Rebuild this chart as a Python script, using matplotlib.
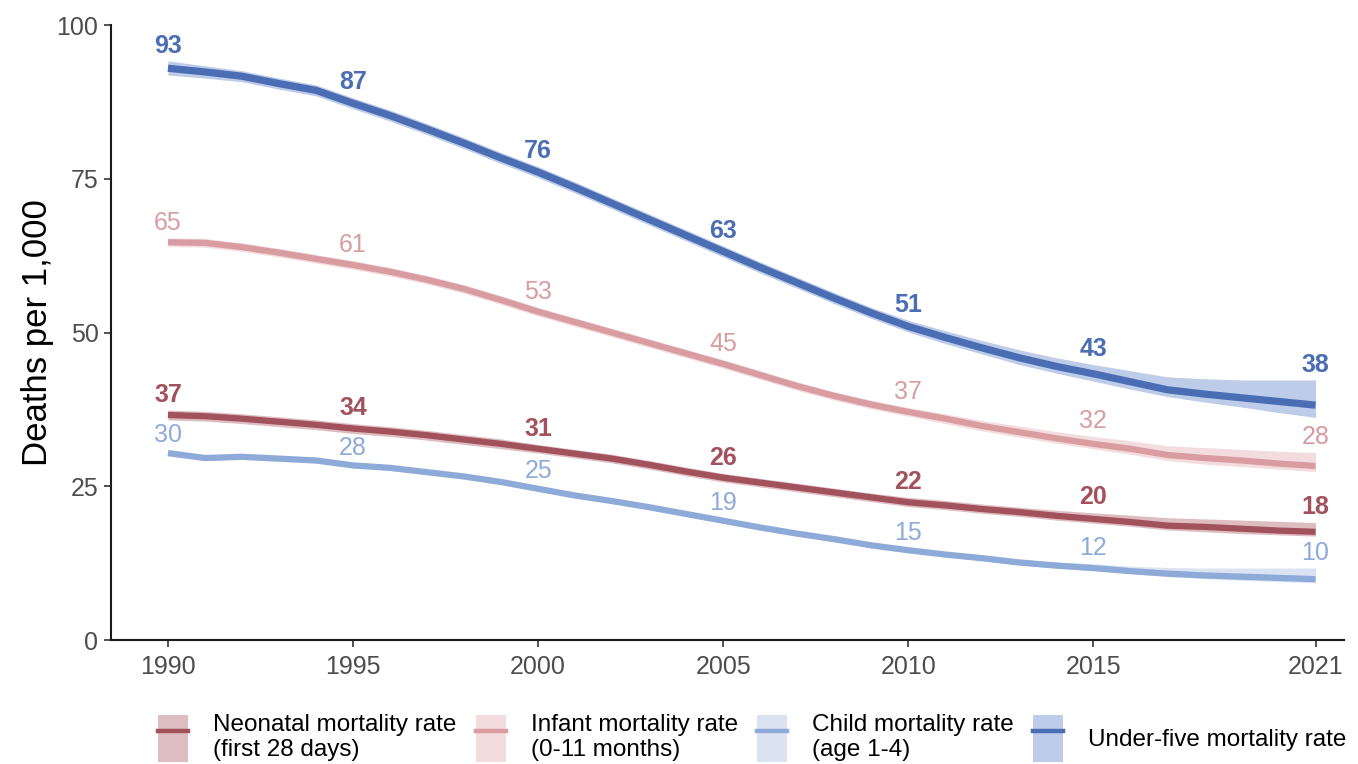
import matplotlib
matplotlib.use("Agg")
import matplotlib.pyplot as plt
from matplotlib.patches import Patch
from matplotlib.lines import Line2D
from matplotlib.legend_handler import HandlerTuple

plt.rcParams['font.family'] = ['Liberation Sans', 'DejaVu Sans']

years = list(range(1990, 2022))
label_years = [1990, 1995, 2000, 2005, 2010, 2015, 2021]
xtick_labels = ["1990", "1995", "2000", "2005", "2010", "2015", "2021"]
yticks = [0, 25, 50, 75, 100]

under5 = [93.0, 92.4, 91.7, 90.5, 89.4, 87.3, 85.3, 83.1, 80.8, 78.4, 76.1, 73.6, 71.0, 68.4, 65.8, 63.2,
          60.6, 58.1, 55.6, 53.2, 51.0, 49.2, 47.5, 45.9, 44.5, 43.3, 42.0, 40.7, 40.0, 39.4, 38.8, 38.2]
under5_hi = [94.2, 93.4, 92.6, 91.4, 90.3, 88.2, 86.2, 84.0, 81.7, 79.3, 77.0, 74.5, 71.9, 69.3, 66.7, 64.1,
             61.5, 59.0, 56.5, 54.1, 52.0, 50.3, 48.7, 47.2, 45.9, 44.8, 43.8, 42.8, 42.5, 42.3, 42.3, 42.3]
under5_lo = [91.9, 91.4, 90.8, 89.6, 88.5, 86.4, 84.4, 82.2, 79.9, 77.5, 75.2, 72.7, 70.1, 67.5, 64.9, 62.3,
             59.7, 57.2, 54.7, 52.3, 50.1, 48.2, 46.5, 44.8, 43.4, 42.1, 40.8, 39.6, 38.7, 37.9, 37.0, 36.2]

infant = [64.7, 64.6, 63.9, 63.0, 62.0, 61.0, 59.9, 58.6, 57.1, 55.3, 53.4, 51.7, 50.0, 48.3, 46.6, 44.9,
          43.1, 41.3, 39.7, 38.3, 37.1, 36.0, 34.8, 33.8, 32.8, 31.9, 31.1, 30.1, 29.6, 29.2, 28.7, 28.3]
infant_hi = [65.4, 65.3, 64.6, 63.7, 62.7, 61.7, 60.6, 59.3, 57.8, 56.0, 54.1, 52.4, 50.7, 49.0, 47.3, 45.6,
             43.8, 42.0, 40.4, 39.0, 37.8, 36.8, 35.7, 34.8, 33.9, 33.1, 32.4, 31.6, 31.3, 31.0, 30.7, 30.5]
infant_lo = [64.0, 63.9, 63.2, 62.3, 61.3, 60.3, 59.2, 57.9, 56.4, 54.6, 52.7, 51.0, 49.3, 47.6, 45.9, 44.2,
             42.4, 40.6, 39.0, 37.6, 36.4, 35.2, 34.0, 33.0, 32.0, 31.1, 30.2, 29.2, 28.6, 28.2, 27.8, 27.4]

neonatal = [36.6, 36.4, 36.0, 35.5, 35.0, 34.4, 33.9, 33.3, 32.6, 31.9, 31.1, 30.3, 29.5, 28.5, 27.4, 26.4,
            25.6, 24.8, 24.0, 23.2, 22.4, 21.9, 21.3, 20.8, 20.2, 19.7, 19.2, 18.6, 18.4, 18.1, 17.8, 17.6]
neonatal_hi = [37.4, 37.2, 36.8, 36.3, 35.8, 35.2, 34.7, 34.1, 33.4, 32.7, 31.8, 31.0, 30.2, 29.2, 28.1, 27.1,
               26.3, 25.5, 24.7, 23.9, 23.2, 22.7, 22.1, 21.6, 21.1, 20.7, 20.3, 19.9, 19.7, 19.5, 19.3, 19.1]
neonatal_lo = [35.8, 35.6, 35.2, 34.7, 34.2, 33.6, 33.1, 32.5, 31.8, 31.1, 30.4, 29.6, 28.8, 27.8, 26.7, 25.7,
               24.9, 24.1, 23.3, 22.5, 21.7, 21.2, 20.6, 20.1, 19.5, 19.0, 18.5, 17.9, 17.6, 17.3, 17.1, 16.9]

child = [30.4, 29.6, 29.8, 29.5, 29.2, 28.4, 28.0, 27.3, 26.6, 25.7, 24.6, 23.5, 22.6, 21.6, 20.5, 19.4,
         18.3, 17.3, 16.4, 15.4, 14.6, 13.9, 13.3, 12.6, 12.1, 11.7, 11.2, 10.8, 10.5, 10.3, 10.1, 9.9]
child_hi = [30.8, 30.0, 30.2, 29.9, 29.6, 28.8, 28.4, 27.7, 27.0, 26.1, 25.0, 23.9, 23.0, 22.0, 20.9, 19.8,
            18.7, 17.7, 16.8, 15.8, 15.0, 14.4, 13.8, 13.2, 12.7, 12.4, 12.0, 11.8, 11.7, 11.7, 11.7, 11.7]
child_lo = [30.0, 29.2, 29.4, 29.1, 28.8, 28.0, 27.6, 26.9, 26.2, 25.3, 24.2, 23.1, 22.2, 21.2, 20.1, 19.0,
            17.9, 16.9, 16.0, 15.0, 14.2, 13.5, 12.9, 12.2, 11.7, 11.3, 10.8, 10.3, 10.0, 9.7, 9.5, 9.3]

series = [
    ("Neonatal mortality rate\n(first 28 days)", neonatal, neonatal_lo, neonatal_hi,
     "#a2525c", "#d9b2b6", "bold", 4.5),
    ("Infant mortality rate\n(0-11 months)", infant, infant_lo, infant_hi,
     "#d89ca1", "#f0d6d8", "normal", 4.5),
    ("Child mortality rate\n(age 1-4)", child, child_lo, child_hi,
     "#8eaad8", "#d4dff0", "normal", 4.5),
    ("Under-five mortality rate", under5, under5_lo, under5_hi,
     "#4a6db4", "#b2c3e4", "bold", 5.2),
]

fig = plt.figure(figsize=(13.58, 7.64), dpi=100)
ax = fig.add_axes([0.0817, 0.1623, 0.9083, 0.8047])

handles = []
for name, vals, lo, hi, lc, bc, weight, lw in series:
    ax.fill_between(years, lo, hi, color=bc, alpha=0.85, linewidth=0, zorder=1)
    ax.plot(years, vals, color=lc, lw=lw, solid_capstyle='butt', solid_joinstyle='round', zorder=2)
    for yr in label_years:
        i = years.index(yr)
        ax.annotate(f"{round(vals[i])}", xy=(yr, hi[i]), xytext=(0, 11),
                    textcoords='offset points', ha='center', va='center',
                    fontsize=18, fontweight=weight, color=lc, zorder=3)
    handles.append((Patch(facecolor=bc, edgecolor='none', alpha=0.85),
                    Line2D([], [], color=lc, lw=3.2)))

ax.set_xlim(1988.46, 2021.78)
ax.set_ylim(0, 100)
ax.set_xticks(label_years)
ax.set_xticklabels(xtick_labels)
ax.set_yticks(yticks)
ax.tick_params(axis='both', direction='out', length=5, width=1.2, color='#333333',
               labelsize=18, labelcolor='#4d4d4d')
ax.tick_params(axis='x', pad=6)
ax.tick_params(axis='y', pad=4)
for side in ('top', 'right'):
    ax.spines[side].set_visible(False)
for side in ('left', 'bottom'):
    ax.spines[side].set_linewidth(1.5)
    ax.spines[side].set_color('#1a1a1a')
ax.set_ylabel("Deaths per 1,000", fontsize=25, color='black', labelpad=2)

fig.legend(handles, [s[0] for s in series], handler_map={tuple: HandlerTuple(ndivide=1, pad=0)},
           loc='lower center', bbox_to_anchor=(0.554, -0.017), ncol=4, frameon=False,
           fontsize=17.5, handlelength=1.23, handleheight=2.6, columnspacing=0.8,
           handletextpad=1.03, labelspacing=0.2, borderpad=0.1)

fig.savefig("out.png", dpi=100)
